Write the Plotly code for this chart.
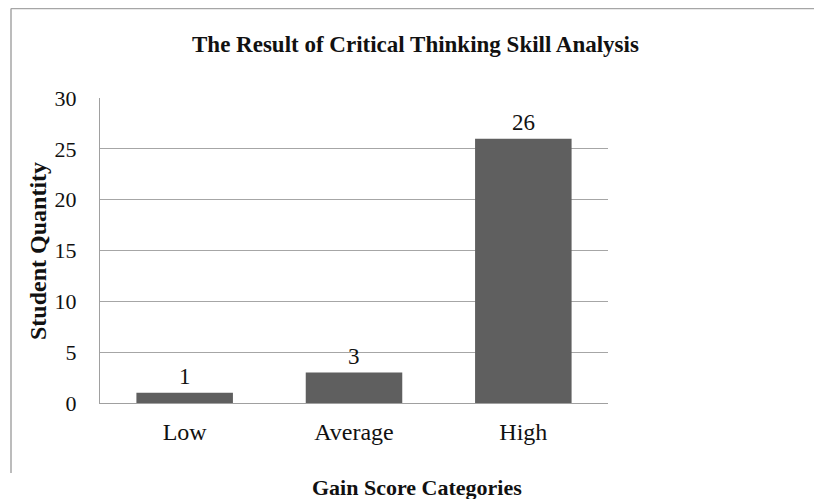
import plotly.graph_objects as go

categories = ["Low", "Average", "High"]
values = [1, 3, 26]
y_ticks = [0, 5, 10, 15, 20, 25, 30]

# page body has an 8px margin; figure is sized to fit the remaining window
OFF = 8
W, H = 822 - OFF, 499 - OFF
L, T = 100 - OFF, 98 - OFF
R, B = W - (608 - OFF), H - (403 - OFF)
pw, ph = W - L - R, H - T - B

def px(x):
    return (x - OFF - L) / pw

def py(y):
    return (H - B - (y - OFF)) / ph

serif = "Liberation Serif, Times New Roman, serif"
ink = "#111111"

fig = go.Figure(go.Bar(
    x=categories, y=values,
    marker=dict(color="#5f5f5f", line=dict(width=0)),
    cliponaxis=False,
))

annotations = [
    dict(text=str(v), x=c, y=v, xref="x", yref="y", showarrow=False,
         yanchor="middle", yshift=16, font=dict(family=serif, size=23, color=ink))
    for c, v in zip(categories, values)
]
annotations += [
    dict(text="<b>The Result of Critical Thinking Skill Analysis</b>", xref="paper", yref="paper",
         x=px(415), y=py(45), showarrow=False, font=dict(family=serif, size=23, color=ink),
         xanchor="center", yanchor="middle"),
    dict(text="<b>Student Quantity</b>", xref="paper", yref="paper",
         x=px(38), y=py(251), showarrow=False, textangle=-90,
         font=dict(family=serif, size=24, color=ink), xanchor="center", yanchor="middle"),
    dict(text="<b>Gain Score Categories</b>", xref="paper", yref="paper",
         x=px(417), y=py(487), showarrow=False,
         font=dict(family=serif, size=22, color=ink), xanchor="center", yanchor="middle"),
]

fig.update_layout(
    width=W, height=H,
    margin=dict(l=L, r=R, t=T, b=B, pad=0),
    paper_bgcolor="white", plot_bgcolor="white",
    bargap=0.43,
    showlegend=False,
    font=dict(family=serif, size=18, color=ink),
    xaxis=dict(showgrid=False, showline=True, linecolor="#a0a0a0", linewidth=1,
               ticks="", tickfont=dict(family=serif, size=24, color=ink),
               ticklabelstandoff=7),
    yaxis=dict(range=[0, 30], tickvals=y_ticks, showgrid=True, gridcolor="#a6a6a6",
               gridwidth=1, showline=True, linecolor="#a0a0a0", linewidth=1,
               zeroline=False, ticks="", tickfont=dict(family=serif, size=22, color=ink),
               ticklabelstandoff=18),
    annotations=annotations,
    shapes=[
        dict(type="line", xref="paper", yref="paper", x0=px(11), x1=px(822), y0=py(8.5), y1=py(8.5),
             line=dict(color="#a6a6a6", width=1.5)),
        dict(type="line", xref="paper", yref="paper", x0=px(11), x1=px(11), y0=py(8.5), y1=py(473),
             line=dict(color="#a6a6a6", width=1.5)),
    ],
)

fig.write_html("out.html")
